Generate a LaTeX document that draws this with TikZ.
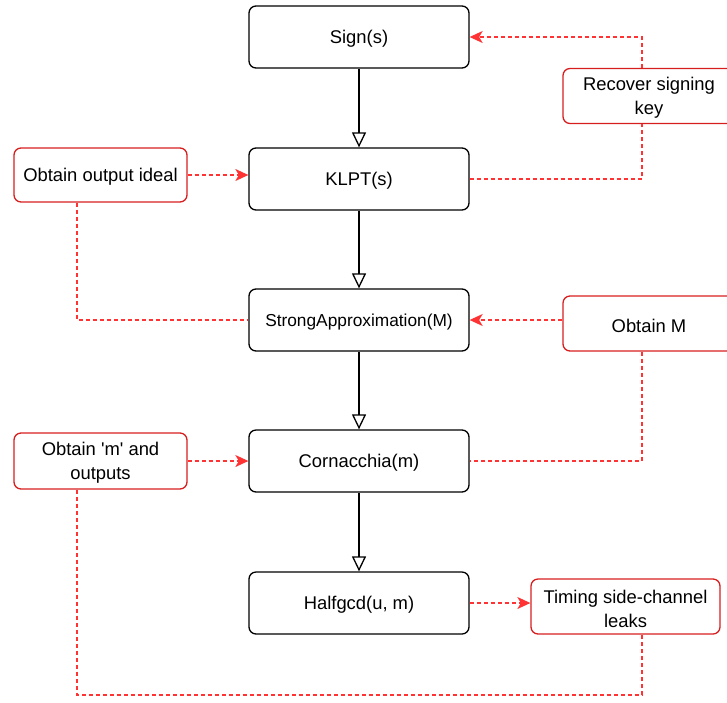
\documentclass[tikz,border=0pt]{standalone}
\usepackage{fontspec}
\setmainfont{Liberation Sans}[Ligatures=TeXOff]
\usetikzlibrary{arrows.meta}
\definecolor{dred}{RGB}{215,30,30}
\definecolor{lred}{RGB}{255,51,51}
\tikzset{
  mainbox/.style={draw=black, line width=1.3pt, rounded corners=7pt, minimum width=220pt, minimum height=62pt, inner sep=0pt},
  redbox/.style={draw=dred, line width=1.3pt, rounded corners=7pt, inner sep=0pt},
  txt/.style={inner sep=0pt, align=center, yshift=-2.2pt, font=\fontsize{18.4}{24}\selectfont},
  flow/.style={draw=black, line width=1.3pt, -{Triangle[open, length=15pt, width=14pt]}},
  att/.style={draw=lred, line width=1.3pt, dash pattern=on 4pt off 3pt},
  atta/.style={att, -{Stealth[length=13pt, width=12pt, inset=3.5pt]}},
}
\begin{document}
\begin{tikzpicture}[x=1pt, y=-1pt]
\useasboundingbox (0,0) rectangle (727,702);
\node[mainbox, label={[txt]center:Sign(s)}] (sign) at (359,37) {};
\node[mainbox, label={[txt]center:KLPT(s)}] (klpt) at (359,179) {};
\node[mainbox, label={[txt, font=\fontsize{17.3}{20}\selectfont]center:StrongApproximation(M)}] (sa) at (359,320) {};
\node[mainbox, label={[txt]center:Cornacchia(m)}] (corn) at (359,461) {};
\node[mainbox, label={[txt]center:Halfgcd(u, m)}] (half) at (359,603) {};

\node[redbox, minimum width=172pt, minimum height=55pt, label={[txt]center:Recover signing\\key}] (rec) at (649,96) {};
\node[redbox, minimum width=173pt, minimum height=54pt, label={[txt]center:Obtain output ideal}] (oid) at (100.5,175) {};
\node[redbox, minimum width=172pt, minimum height=55pt, label={[txt]center:Obtain M}] (om) at (649,323.5) {};
\node[redbox, minimum width=173pt, minimum height=56pt, label={[txt]center:Obtain 'm' and\\outputs}] (omo) at (100.5,461) {};
\node[redbox, minimum width=189pt, minimum height=55pt, label={[txt]center:Timing side-channel\\leaks}] (tim) at (625.5,606.5) {};

\draw[flow] (sign) -- (klpt);
\draw[flow] (klpt) -- (sa);
\draw[flow] (sa) -- (corn);
\draw[flow] (corn) -- (half);

\coordinate (c1) at (642,37);
\coordinate (c2) at (642,179);
\coordinate (c3) at (77,320);
\coordinate (c4) at (642,461);
\coordinate (c5) at (77,695);
\coordinate (c6) at (642,695);

\draw[atta] (rec.north -| c1) -- (c1) -- (sign.east);
\draw[att] (klpt.east) -- (c2) -- (rec.south -| c2);
\draw[atta] (oid.east) -- (oid.east -| klpt.west);
\draw[att] (oid.south -| c3) -- (c3) -- (sa.west);
\draw[atta] (om.west |- sa.east) -- (sa.east);
\draw[att] (om.south -| c4) -- (c4) -- (corn.east);
\draw[atta] (omo.east) -- (corn.west);
\draw[att] (omo.south -| c5) -- (c5) -- (c6) -- (tim.south -| c6);
\draw[atta] (half.east) -- (tim.west |- half.east);
\end{tikzpicture}
\end{document}
